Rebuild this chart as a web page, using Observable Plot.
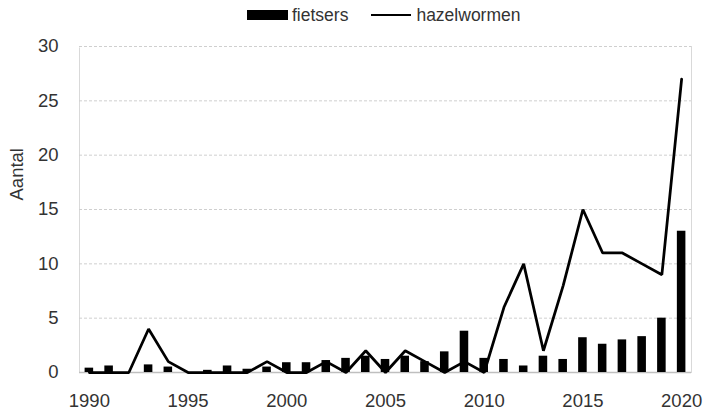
<!DOCTYPE html>
<html>
<head>
<meta charset="utf-8">
<script src="https://cdn.jsdelivr.net/npm/d3@7"></script>
<script src="https://cdn.jsdelivr.net/npm/@observablehq/plot@0.6"></script>
<style>
  html, body { margin: 0; padding: 0; background: #fff; }
  #wrap { width: 703px; height: 411px; position: relative; overflow: hidden; }
  #legend { height: 30px; display: flex; align-items: center; padding-left: 247px; box-sizing: border-box;
    font-family: "Liberation Sans", Arial, sans-serif; font-size: 17.5px; color: #333; }
  .sw-bar { width: 41px; height: 10.5px; background: #000; margin-right: 4px; }
  .sw-line { width: 40px; height: 2.6px; background: #000; margin-left: 23px; margin-right: 5px; }
</style>
</head>
<body>
<div id="wrap">
  <div id="legend">
    <span class="sw-bar"></span><span>fietsers</span>
    <span class="sw-line"></span><span>hazelwormen</span>
  </div>
  <div id="chart"></div>
</div>
<script>
const years = [1990,1991,1992,1993,1994,1995,1996,1997,1998,1999,2000,2001,2002,2003,2004,2005,2006,2007,2008,2009,2010,2011,2012,2013,2014,2015,2016,2017,2018,2019,2020];
const fietsers = [0.4,0.6,0,0.7,0.5,0,0.2,0.6,0.3,0.5,0.9,0.9,1.1,1.3,1.5,1.2,1.5,1.0,1.9,3.8,1.3,1.2,0.6,1.5,1.2,3.2,2.6,3.0,3.3,5.0,13.0];
const hazelwormen = [0,0,0,4,1,0,0,0,0,1,0,0,1,0,2,0,2,1,0,1,0,6,10,2,8,15,11,11,10,9,27];
const xTicks = [1990,1995,2000,2005,2010,2015,2020];
const yTicks = [0,5,10,15,20,25,30];
const gridValues = [5,10,15,20,25,30];
const yLabel = "Aantal";

const data = years.map((y, i) => ({year: y, fietsers: fietsers[i], hazel: hazelwormen[i]}));

const chart = Plot.plot({
  width: 703,
  height: 381,
  marginTop: 16,
  marginBottom: 39,
  marginLeft: 79,
  marginRight: 12,
  style: {fontFamily: "'Liberation Sans', Arial, sans-serif", fontSize: "18.5px", color: "#333", background: "white"},
  x: {type: "linear", domain: [years[0] - 0.5, years[years.length - 1] + 0.5], ticks: xTicks, tickFormat: d => String(d), tickSize: 0, tickPadding: 21, label: null},
  y: {domain: [0, 30], ticks: yTicks, tickSize: 0, tickPadding: 21, label: null},
  marks: [
    Plot.frame({stroke: "#d9d9d9"}),
    Plot.ruleY([30], {stroke: "white", strokeWidth: 2}),
    Plot.ruleY(gridValues, {stroke: "#cfcfcf", strokeDasharray: "3,2", strokeWidth: 1}),
    Plot.ruleY([0], {stroke: "#bfbfbf", strokeWidth: 1.5}),
    Plot.rectY(data, {x1: d => d.year - 0.5, x2: d => d.year + 0.5, y: "fietsers", fill: "black", insetLeft: 5.6, insetRight: 5.6}),
    Plot.line(data, {x: "year", y: "hazel", stroke: "black", strokeWidth: 2.75, strokeLinejoin: "miter"}),
    Plot.text([yLabel], {text: d => d, frameAnchor: "left", dx: -62, dy: -9, rotate: -90, fontSize: 18.5, fill: "#333"})
  ]
});
document.getElementById("chart").appendChild(chart);
</script>
</body>
</html>
